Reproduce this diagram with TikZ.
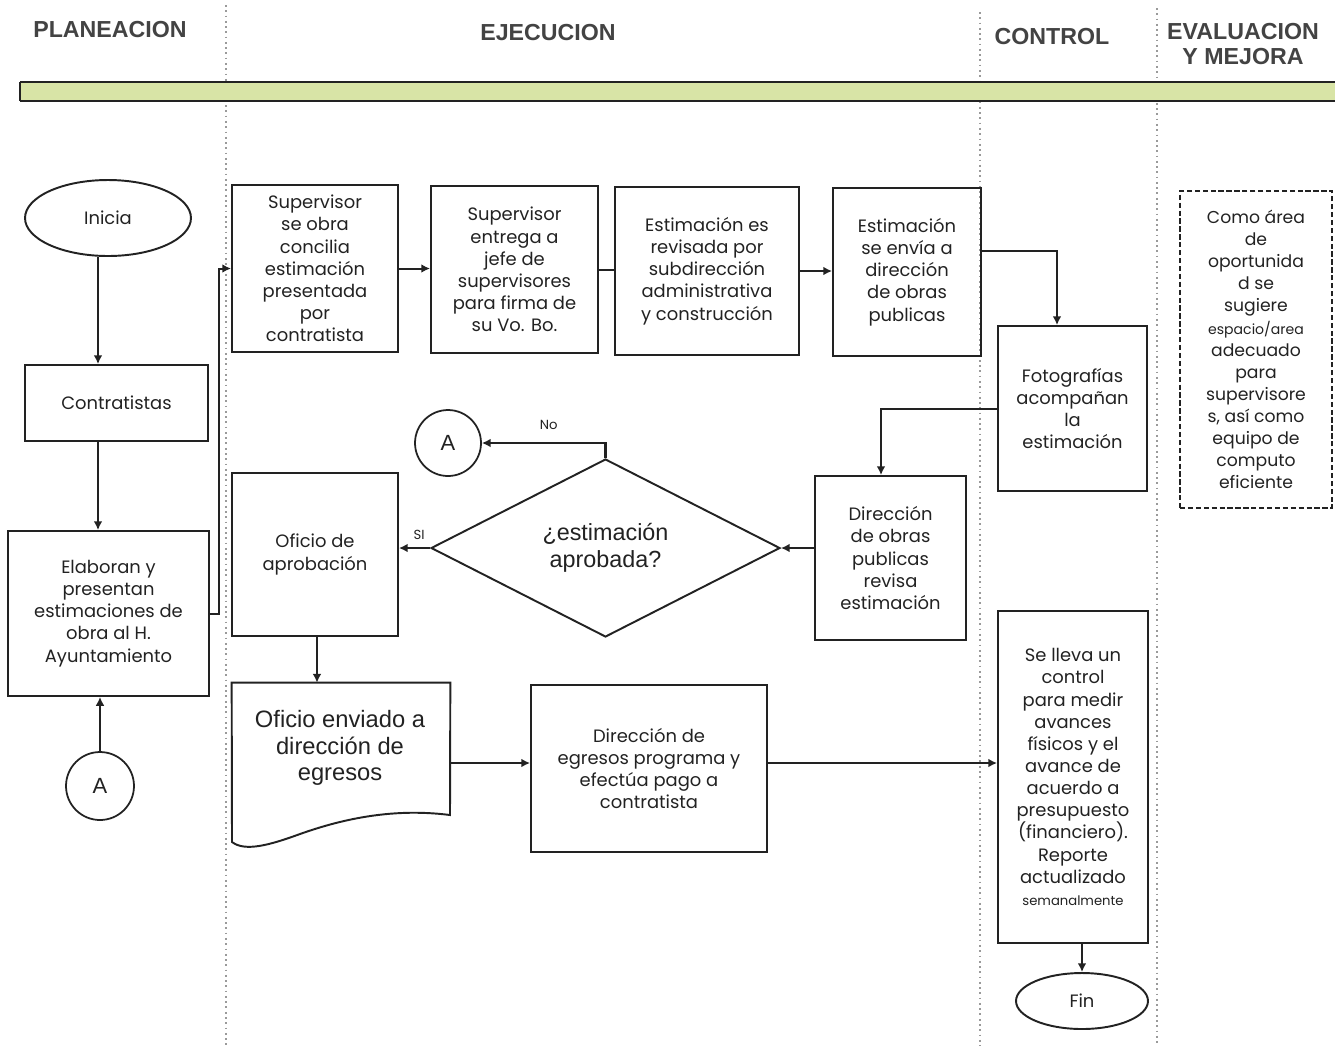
\documentclass[tikz,border=0pt]{standalone}
\usepackage{fontspec}
\setmainfont{Poppins}
\newfontfamily\headfont{Liberation Sans}
\usetikzlibrary{shapes.geometric,arrows.meta,calc}
\definecolor{ink}{HTML}{222222}
\definecolor{band}{HTML}{D8E4A6}
\definecolor{lane}{HTML}{9A9A9A}
\begin{document}
\begin{tikzpicture}[x=0.02cm,y=-0.02cm,
  every node/.style={font=\fontsize{10.2}{12.6}\selectfont, text=ink, align=center, inner sep=1pt},
  stepbox/.style={draw=ink, line width=1.1pt, rectangle},
  endbox/.style={draw=ink, line width=1.1pt, ellipse},
  conn/.style={draw=ink, circle, line width=1pt, font=\headfont\fontsize{12.5}{14}\selectfont},
  flow/.style={draw=ink, line width=1.15pt},
  arr/.style={flow, -{Latex[length=5pt,width=5pt]}},
  lanesep/.style={draw=lane, line width=1pt, dotted},
  head/.style={font=\headfont\bfseries\fontsize{13.2}{15}\selectfont, text=ink!85},
  bigtext/.style={font=\headfont\fontsize{13.5}{15.2}\selectfont},
  tag/.style={font=\fontsize{7.5}{8}\selectfont}
]
% page frame
\useasboundingbox (0,0) rectangle (1335,1046);
\fill[white] (0,0) rectangle (1335,1046);

% lane separators
\draw[lanesep] (226,5) -- (226,1046);
\draw[lanesep] (980,12) -- (980,1046);
\draw[lanesep] (1157,8) -- (1157,1046);

% lane headers
\node[head] (hplan) at (110,30) {PLANEACION};
\node[head] (hejec) at (548,33) {EJECUCION};
\node[head] (hctrl) at (1052,37) {CONTROL};
\node[head, font=\headfont\bfseries\fontsize{13.2}{14}\selectfont] (heval) at (1243,44) {EVALUACION\\Y MEJORA};

% green band under the headers
\fill[band] (20,82) rectangle (1335,101);
\draw[ink, line width=1pt] (20,82) -- (1335,82);
\draw[ink, line width=1.6pt] (20,101) -- (1335,101);
\draw[ink, line width=0.8pt] (20,82) -- (20,101);

% PLANEACION lane
\node[endbox, minimum width=3.32cm, minimum height=1.52cm] (inicia) at (108,218) {Inicia};
\node[stepbox, minimum width=3.66cm, minimum height=1.52cm] (contr) at (116.5,403) {Contratistas};
\node[stepbox, minimum width=4.02cm, minimum height=3.3cm] (elab) at (108.5,613.5)
  {Elaboran y\\presentan\\estimaciones de\\obra al H.\\Ayuntamiento};
\node[conn, minimum size=1.36cm] (a2) at (100,786) {A};
\coordinate (col1) at (98,0);

% EJECUCION lane, top row
\node[stepbox, minimum width=3.32cm, minimum height=3.34cm] (sup1) at (315,268.5)
  {Supervisor\\se obra\\concilia\\estimación\\presentada\\por\\contratista};
\node[stepbox, minimum width=3.34cm, minimum height=3.34cm] (sup2) at (514.5,269.5)
  {Supervisor\\entrega a\\jefe de\\supervisores\\para firma de\\su Vo. Bo.};
\node[stepbox, minimum width=3.68cm, minimum height=3.36cm] (rev) at (707,271)
  {Estimación es\\revisada por\\subdirección\\administrativa\\y construcción};
\node[stepbox, minimum width=2.96cm, minimum height=3.36cm] (env) at (907,272)
  {Estimación\\se envía a\\dirección\\de obras\\publicas};

% EJECUCION lane, decision row
\node[stepbox, minimum width=3.02cm, minimum height=3.28cm] (dop) at (890.5,558)
  {Dirección\\de obras\\publicas\\revisa\\estimación};
\node[draw=ink, line width=1.1pt, diamond, minimum width=6.98cm, minimum height=3.56cm, inner sep=0pt,
  font=\headfont\fontsize{13.3}{15.2}\selectfont] (dia) at (605.5,548) {¿estimación\\aprobada?};
\node[conn, minimum size=1.32cm] (a1) at (448,443) {A};
\node[stepbox, minimum width=3.32cm, minimum height=3.26cm] (ofa) at (315,554.5)
  {Oficio de\\aprobación};

% EJECUCION lane, bottom row
\node[minimum width=4.36cm, minimum height=3.3cm, inner sep=0pt] (ofe) at (341,765.5) {};
\draw[ink, line width=1.1pt] (ofe.north west) -- (ofe.north east) -- (450,815)
  .. controls (395,808) and (345,818) .. (300,834)
  .. controls (270,845) and (245,852) .. (232,842) -- cycle;
\node[bigtext] (ofetext) at (340,748)
  {Oficio enviado a\\dirección de\\egresos};
\node[stepbox, minimum width=4.72cm, minimum height=3.34cm] (egr) at (649,768.5)
  {Dirección de\\egresos programa y\\efectúa pago a\\contratista};

% CONTROL lane
\node[stepbox, minimum width=2.98cm, minimum height=3.3cm] (foto) at (1072.5,408.5)
  {Fotografías\\acompañan\\la\\estimación};
\node[stepbox, minimum width=3.0cm, minimum height=6.64cm] (ctl) at (1073,777)
  {Se lleva un\\control\\para medir\\avances\\físicos y el\\avance de\\acuerdo a\\presupuesto\\(financiero).\\Reporte\\actualizado\\{\fontsize{7.5}{8}\selectfont semanalmente}};
\node[endbox, minimum width=2.64cm, minimum height=1.12cm] (fin) at (1082,1001) {Fin};

% EVALUACION Y MEJORA lane
\node[draw=ink, line width=1pt, dash pattern=on 3pt off 1.5pt, minimum width=3.04cm, minimum height=6.34cm,
  font=\fontsize{9.8}{12.6}\selectfont] (mejora) at (1256,349.5)
  {Como área\\de\\oportunida\\d se\\sugiere\\{\fontsize{8}{9}\selectfont espacio/area}\\adecuado\\para\\supervisore\\s, así como\\equipo de\\computo\\eficiente};

% connectors
\draw[arr] (inicia.south -| col1) -- (contr.north -| col1);
\draw[arr] (contr.south -| col1) -- (elab.north -| col1);
\draw[arr] (a2.north) -- (a2.north |- elab.south);
\draw[arr] (elab.east) -- ++(9,0) |- (sup1.west);
\draw[arr] (sup1.east) -- (sup1.east -| sup2.west);
\draw[flow] (sup2.east) -- (sup2.east -| rev.west);
\draw[arr] (rev.east) -- (rev.east -| env.west);
\draw[arr] ([yshift=0.42cm]env.east) -| ([xshift=-0.31cm]foto.north);
\draw[arr] (foto.west) -| ([xshift=-0.19cm]dop.north);
\draw[arr] (dop.west |- dia.east) -- (dia.east);
\draw[arr] (dia.west) -- (dia.west -| ofa.east) node[pos=0.35, above=3pt, tag] (si) {SI};
\draw[arr] (dia.north) |- (a1.east) node[pos=0.73, above=6pt, tag] (no) {No};
\draw[arr] (ofa.south -| 317,0) -- (ofe.north -| 317,0);
\draw[arr] (ofe.east |- 0,763) -- (egr.west |- 0,763);
\draw[arr] (egr.east |- 0,763) -- (ctl.west |- 0,763);
\draw[arr] (fin.north |- ctl.south) -- (fin.north);
\end{tikzpicture}
\end{document}
